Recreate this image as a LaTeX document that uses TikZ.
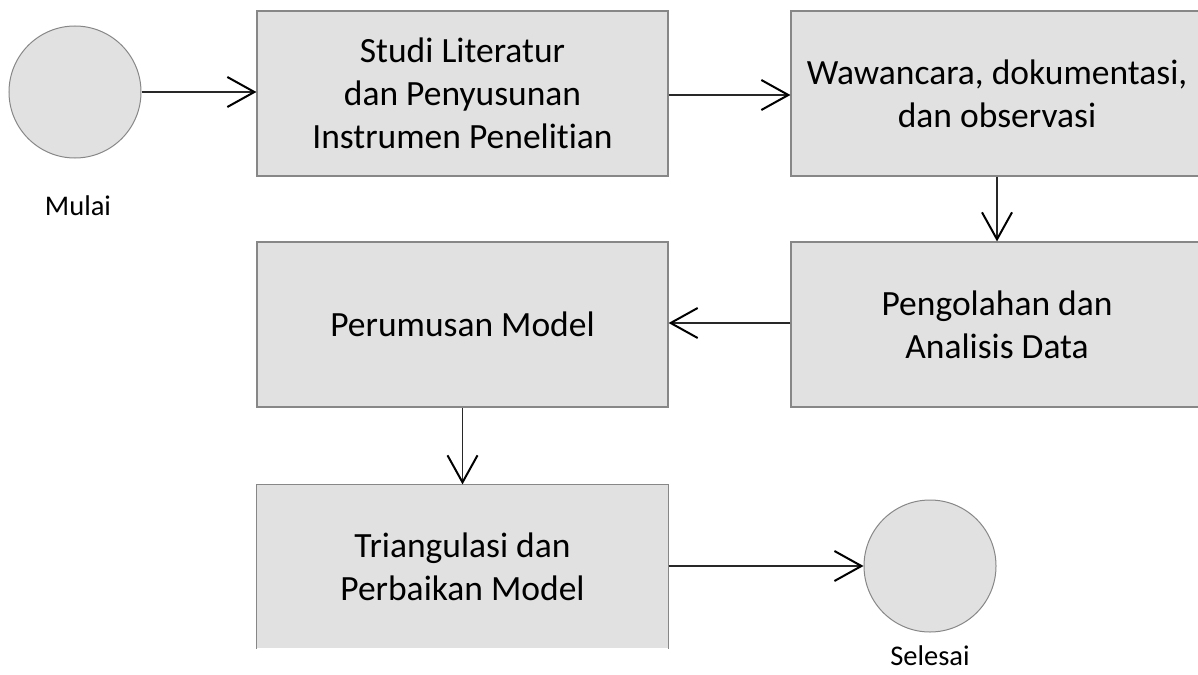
\documentclass[tikz,border=0pt]{standalone}
\usepackage{fontspec}
\setmainfont[Ligatures={NoCommon}]{Carlito}
\usetikzlibrary{arrows.meta}
\definecolor{boxfill}{RGB}{225,225,225}
\definecolor{boxline}{RGB}{135,135,135}
\definecolor{conline}{RGB}{40,40,40}
\tikzset{
  stepbox/.style={rectangle, fill=boxfill, draw=boxline, line width=1.2pt,
    minimum width=411pt, minimum height=165pt, align=center, inner sep=0pt,
    font=\fontsize{35.5}{43}\selectfont},
  endcircle/.style={circle, fill=boxfill, draw=boxline, line width=1pt,
    minimum size=132pt, inner sep=0pt},
  caption/.style={font=\fontsize{28.5}{34}\selectfont, inner sep=0pt},
  conn/.style={draw=conline, line width=1.2pt,
    -{Straight Barb[length=27pt, width=30pt, line width=2pt, color=black]}}
}
\begin{document}
\begin{tikzpicture}[x=1pt, y=-1pt]
\useasboundingbox (0,0) rectangle (1198,674);
\begin{scope}
\clip (0,0) rectangle (1198,674);
\node[endcircle] (m) at (75,92) {};
\node[caption] (ml) at (78,206) {Mulai};
\node[stepbox] (b1) at (462.5,93.5) {Studi Literatur\\dan Penyusunan\\Instrumen Penelitian};
\node[stepbox, minimum width=412pt] (b2) at (997,93.5) {Wawancara, dokumentasi,\\dan observasi};
\node[stepbox, minimum width=412pt] (b3) at (997,324.5) {Pengolahan dan\\Analisis Data};
\node[stepbox] (b4) at (462.5,324.5) {Perumusan Model};
\node[stepbox, draw=none, minimum height=163pt] (b5) at (462.5,566.5) {Triangulasi dan\\Perbaikan Model};
\draw[boxline, line width=1.2pt] (b5.south west) -- (b5.north west) -- (b5.north east) -- (b5.south east);
\node[endcircle] (s) at (930,566) {};
\node[caption] (sl) at (930,656) {Selesai};
\draw[conn] (m.east) -- (m.east -| b1.west);
\draw[conn] (b1.east |- 0,95) -- (b2.west |- 0,95);
\draw[conn] (b2.south) -- (b3.north);
\draw[conn] (b3.west |- 0,323) -- (b4.east |- 0,323);
\draw[conn] (b4.south) -- (b5.north);
\draw[conn] (b5.east |- s.west) -- (s.west);
\end{scope}
\end{tikzpicture}
\end{document}
